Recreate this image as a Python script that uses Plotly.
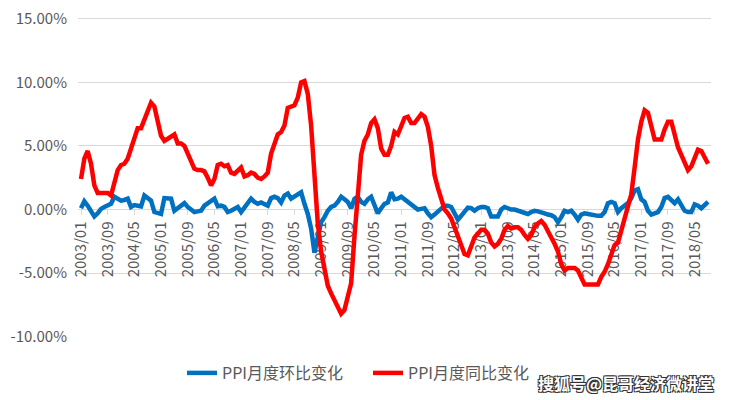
import plotly.graph_objects as go

# monthly categories 2003/01 .. 2018/09
months = [f"{y}/{m:02d}" for y in range(2003, 2019) for m in range(1, 13)][:189]

# PPI month-on-month change (%)
ppi_mom = [
    0.1, 0.65, 0.3, -0.2, -0.55, -0.3, 0.05, 0.2, 0.3, 0.45, 1.0, 0.8,
    0.7, 0.75, 0.85, 0.2, 0.35, 0.3, 0.25, 1.1, 0.9, 0.7, -0.2, -0.3,
    -0.35, 0.9, 0.9, 0.85, -0.1, 0.1, 0.35, 0.5, 0.2, 0.0, -0.2, -0.15,
    -0.1, 0.3, 0.45, 0.6, 0.85, 0.25, 0.3, 0.2, -0.2, -0.1, 0.1, 0.2,
    -0.2, 0.2, 0.55, 0.85, 0.6, 0.45, 0.55, 0.4, 0.3, 0.9, 1.0, 0.9,
    0.55, 1.1, 1.25, 0.85, 1.0, 1.2, 1.35, 0.45, -0.35, -1.5, -3.4, -2.2,
    -1.0, -0.6, -0.1, 0.2, 0.3, 0.6, 1.0, 0.8, 0.6, 0.1, 0.85, 1.0,
    0.6, 0.45, 0.8, 1.0, 0.4, -0.3, 0.1, 0.45, 0.55, 1.35, 0.8, 0.85,
    1.0, 0.8, 0.55, 0.4, 0.2, 0.0, 0.05, 0.1, -0.3, -0.6, -0.4, -0.2,
    0.1, 0.3, 0.3, 0.2, -0.3, -0.8, -0.5, -0.2, 0.15, 0.1, -0.1, 0.1,
    0.2, 0.2, 0.1, -0.55, -0.55, -0.55, 0.0, 0.2, 0.1, 0.0, 0.0, -0.1,
    -0.2, -0.3, -0.35, -0.2, -0.1, -0.15, -0.2, -0.3, -0.4, -0.45, -0.6, -1.0,
    -0.6, -0.1, -0.2, -0.1, -0.4, -0.8, -0.4, -0.3, -0.35, -0.4, -0.5, -0.5,
    -0.5, -0.2, 0.5, 0.6, 0.5, -0.2, 0.1, 0.3, 0.5, 0.9, 1.5, 1.6,
    0.8, 0.6, -0.1, -0.4, -0.3, -0.2, 0.2, 0.9, 1.0, 0.7, 0.5, 0.8,
    0.3, -0.1, -0.2, -0.2, 0.4, 0.3, 0.1, 0.4, 0.6,
]

# PPI year-on-year change (%)
ppi_yoy = [
    2.4, 4.0, 4.6, 3.6, 1.9, 1.3, 1.3, 1.3, 1.3, 1.1, 2.2, 3.1,
    3.5, 3.6, 4.0, 4.8, 5.6, 6.4, 6.4, 7.1, 7.9, 8.4, 8.1, 7.1,
    5.8, 5.4, 5.6, 5.8, 5.9, 5.2, 5.2, 5.0, 4.3, 3.8, 3.2, 3.1,
    3.1, 3.0, 2.5, 1.9, 2.4, 3.5, 3.6, 3.4, 3.5, 2.9, 2.8, 3.1,
    3.3, 2.6, 2.7, 2.9, 2.8, 2.5, 2.4, 2.6, 2.9, 4.4, 5.2, 5.9,
    6.1, 6.6, 8.0, 8.1, 8.2, 8.8, 10.0, 10.1, 9.1, 6.6, 2.0, -1.1,
    -3.3, -4.5, -6.0, -6.6, -7.2, -7.8, -8.2, -7.9, -7.0, -5.8, -2.1, 1.7,
    4.3, 5.4, 5.9, 6.8, 7.1, 6.4, 4.8, 4.3, 4.3, 5.0, 6.1, 5.9,
    6.6, 7.2, 7.3, 6.8, 6.8, 7.1, 7.5, 7.3, 6.5, 5.0, 2.7, 1.7,
    0.7, 0.0, -0.3, -0.7, -1.4, -2.1, -2.9, -3.5, -3.6, -2.8, -2.2, -1.9,
    -1.6, -1.6, -1.9, -2.6, -2.9, -2.7, -2.3, -1.6, -1.3, -1.5, -1.4, -1.4,
    -1.6, -2.0, -2.3, -2.0, -1.4, -1.1, -0.9, -1.2, -1.8, -2.2, -2.7, -3.3,
    -4.3, -4.8, -4.6, -4.6, -4.6, -4.8, -5.4, -5.9, -5.9, -5.9, -5.9, -5.9,
    -5.3, -4.9, -4.3, -3.4, -2.8, -2.6, -1.7, -0.8, 0.1, 1.2, 3.3, 5.5,
    6.9, 7.8, 7.6, 6.4, 5.5, 5.5, 5.5, 6.3, 6.9, 6.9, 5.8, 4.9,
    4.3, 3.7, 3.1, 3.4, 4.1, 4.7, 4.6, 4.1, 3.6,
]

y_ticks = [-10, -5, 0, 5, 10, 15]
y_labels = ["-10.00%", "-5.00%", "0.00%", "5.00%", "10.00%", "15.00%"]

font_main = "Noto Sans CJK SC, Noto Sans, sans-serif"

# page body keeps an 8px margin, so the figure is sized/offset to compensate
W, H = 722, 392
M_L, M_R, M_T, M_B = 70, 19, 7, 63
Y_RANGE = [-10.03, 15.3]
plot_h = H - M_T - M_B
px_per_unit = plot_h / (Y_RANGE[1] - Y_RANGE[0])
y_bottom_px = 337 - 8  # screen y of the plot bottom in figure pixels


def paper_y(screen_y):
    return -((screen_y - 8) - (M_T + plot_h)) / plot_h


fig = go.Figure()

fig.add_trace(go.Scatter(
    x=months, y=ppi_mom, mode="lines", name="PPI月度环比变化",
    line=dict(color="#0070C0", width=4.5)
))
fig.add_trace(go.Scatter(
    x=months, y=ppi_yoy, mode="lines", name="PPI月度同比变化",
    line=dict(color="#FF0000", width=4.5)
))

fig.update_layout(
    width=W, height=H,
    margin=dict(l=M_L, r=M_R, t=M_T, b=M_B, autoexpand=False),
    paper_bgcolor="white", plot_bgcolor="white",
    font=dict(family=font_main, color="#595959", size=15),
    showlegend=True,
    legend=dict(
        orientation="h", x=(182 - 78) / 633, xanchor="left",
        y=paper_y(373), yanchor="middle",
        font=dict(size=16, color="#595959"), entrywidth=141,
    ),
)

fig.update_xaxes(
    type="category", automargin=False,
    range=[-0.9, len(months) - 1 + 0.9],
    tickvals=months[::8], ticktext=months[::8],
    tickangle=-90,
    anchor="free", position=(0 - Y_RANGE[0]) / (Y_RANGE[1] - Y_RANGE[0]),
    showline=True, linecolor="#D9D9D9", linewidth=1,
    ticks="outside", ticklen=5, tickcolor="#D9D9D9",
    showgrid=False, layer="below traces",
    tickfont=dict(size=15, color="#595959"),
)

fig.update_yaxes(
    range=Y_RANGE, automargin=False,
    tickvals=y_ticks, ticktext=y_labels,
    showgrid=True, gridcolor="#D9D9D9", gridwidth=1,
    zeroline=False, showline=False,
    ticklabelstandoff=10, ticklabeloverflow="allow",
    tickfont=dict(size=15, color="#595959"),
)

fig.add_annotation(
    text="搜狐号@昆哥经济微讲堂", xref="paper", yref="paper",
    x=(716 - 78) / 633, xanchor="right", y=paper_y(383), yanchor="middle",
    showarrow=False,
    font=dict(size=16, color="white", weight="bold", family=font_main,
              shadow="-1px -1px 0 #333, 1px -1px 0 #333, -1px 1px 0 #333, 1px 1px 0 #333"),
)

fig.write_html("out.html")
